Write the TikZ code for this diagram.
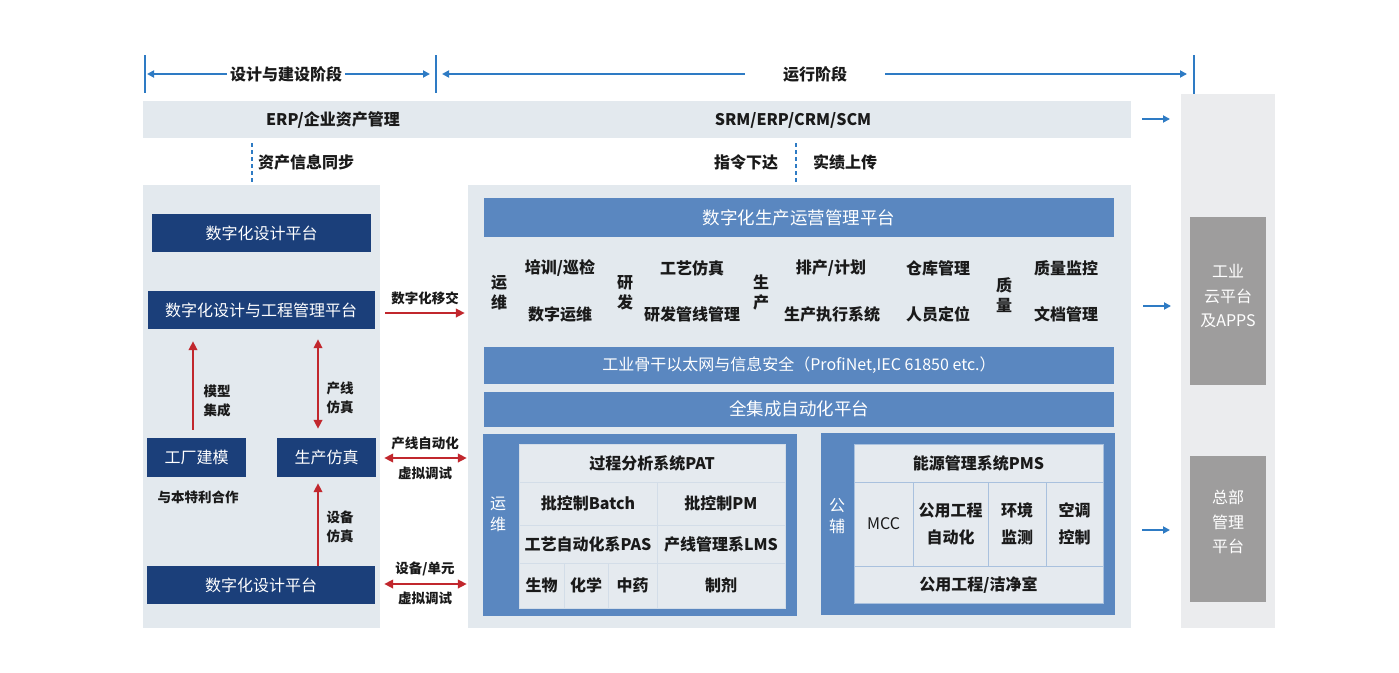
\documentclass[tikz,border=0pt]{standalone}
\usepackage{fontspec}
\setmainfont{Noto Sans CJK SC}
\usetikzlibrary{arrows.meta,calc}
\definecolor{panelc}{HTML}{E3E9EE}
\definecolor{rightc}{HTML}{EBECEE}
\definecolor{navy}{HTML}{1B3F7A}
\definecolor{midblue}{HTML}{5A87C0}
\definecolor{cellc}{HTML}{E5EAEF}
\definecolor{celllineL}{HTML}{D3DDE8}
\definecolor{celllineR}{HTML}{A9C1DE}
\definecolor{greyc}{HTML}{9E9D9D}
\definecolor{redc}{HTML}{C1272D}
\definecolor{bluec}{HTML}{2E7BC4}
\definecolor{txt}{HTML}{1A1A1A}
\tikzset{
 panel/.style={fill=#1, draw=none, inner sep=0},
 navybox/.style={fill=navy, text=white, inner sep=0, font=\fontsize{16}{20}\selectfont},
 bluebox/.style={fill=midblue, text=white, inner sep=0, font=\fontsize{16}{20}\selectfont},
 cellL/.style={fill=cellc, draw=celllineL, line width=1pt, inner sep=0, text=txt, align=center, font=\bfseries\fontsize{16}{20}\selectfont},
 cellR/.style={fill=cellc, draw=celllineR, line width=1pt, inner sep=0, text=txt, align=center, font=\bfseries\fontsize{16}{26.5}\selectfont},
 greybox/.style={fill=greyc, inner sep=0},
 greytext/.style={text=white, inner sep=0, align=center, font=\fontsize{16}{24.5}\selectfont},
 lbl/.style={text=txt, inner sep=0, align=center, font=\bfseries\fontsize{16}{20}\selectfont},
 tlbl/.style={text=txt, inner sep=3pt, align=center, font=\bfseries\fontsize{16}{20}\selectfont},
 slbl/.style={text=txt, inner sep=0, align=center, font=\bfseries\fontsize{13.5}{19}\selectfont},
 wlbl/.style={text=white, inner sep=0, align=center, font=\fontsize{16}{21}\selectfont},
 bluearr/.style={draw=bluec, line width=2pt, -{Triangle[length=7pt,width=7pt]}},
 tickline/.style={draw=bluec, line width=1.5pt},
 redarr/.style={draw=redc, line width=2.5pt, -{Triangle[length=9pt,width=8.5pt]}},
 redarrtwo/.style={draw=redc, line width=2.5pt, {Triangle[length=9pt,width=8.5pt]}-{Triangle[length=9pt,width=8.5pt]}},
 dsh/.style={draw=bluec, line width=1.5pt, dash pattern=on 4pt off 3pt},
}
\begin{document}
\begin{tikzpicture}[x=1pt,y=-1pt]
\fill[white] (0,0) rectangle (1399,672);
\useasboundingbox (0,0) rectangle (1399,672);

% ---------- background panels ----------
\node[panel=rightc, minimum width=94, minimum height=534] (rcol) at (1227.5,361) {};
\node[panel=panelc, minimum width=988, minimum height=37] (band) at (637,119.5) {};
\node[panel=panelc, minimum width=237, minimum height=443] (lp) at (261.5,406.5) {};
\node[panel=panelc, minimum width=663, minimum height=443] (mp) at (799.5,406.5) {};

% ---------- timeline ----------
\coordinate (k1a) at (145,55); \coordinate (k1b) at (145,93);
\coordinate (k2a) at (436,55); \coordinate (k2b) at (436,93);
\coordinate (k3a) at (1194,55); \coordinate (k3b) at (1194,94);
\draw[tickline] (k1a) -- (k1b);
\draw[tickline] (k2a) -- (k2b);
\draw[tickline] (k3a) -- (k3b);
\node[tlbl] (ph1) at (286,74) {设计与建设阶段};
\node[tlbl, inner xsep=38pt] (ph2) at (815,74) {运行阶段};
\coordinate (p1l) at (147,74); \coordinate (p1r) at (430,74);
\coordinate (p2l) at (442,74); \coordinate (p2r) at (1187,74);
\draw[bluearr] (ph1.west) -- (p1l);
\draw[bluearr] (ph1.east) -- (p1r);
\draw[bluearr] (ph2.west) -- (p2l);
\draw[bluearr] (ph2.east) -- (p2r);

% ---------- top band ----------
\node[lbl] (erp) at (333,120) {ERP/企业资产管理};
\node[lbl] (srm) at (793,120) {SRM/ERP/CRM/SCM};
\coordinate (ba1) at (1142,119); \coordinate (ba2) at (1170,119);
\draw[bluearr] (ba1) -- (ba2);

\coordinate (ds1a) at (252,143); \coordinate (ds1b) at (252,182);
\draw[dsh] (ds1a) -- (ds1b);
\node[lbl, anchor=west] (sync) at (258,162) {资产信息同步};
\coordinate (ds2a) at (796,143); \coordinate (ds2b) at (796,182);
\draw[dsh] (ds2a) -- (ds2b);
\node[lbl] (cmd) at (746,162) {指令下达};
\node[lbl] (rep) at (845,162) {实绩上传};

% ---------- left panel ----------
\node[navybox, minimum width=219, minimum height=38] (d1) at (261.5,233) {数字化设计平台};
\node[navybox, minimum width=227, minimum height=38] (d2) at (261,310) {数字化设计与工程管理平台};
\node[navybox, minimum width=99, minimum height=39] (fac) at (196.5,457.5) {工厂建模};
\node[navybox, minimum width=99, minimum height=39] (sim) at (326.5,457.5) {生产仿真};
\node[navybox, minimum width=228, minimum height=38] (d3) at (261,585) {数字化设计平台};
\node[slbl] (bently) at (198,497) {与本特利合作};

\draw[redarr, shorten <=8pt, shorten >=12pt] ($(fac.north)+(-3.5,0)$) -- ($(fac.north |- d2.south)+(-3.5,0)$);
\node[slbl] (mj) at (217,401) {模型\\集成};
\draw[redarrtwo, shorten <=9pt, shorten >=10pt] ($(sim.north)+(-8.5,0)$) -- ($(sim.north |- d2.south)+(-8.5,0)$);
\node[slbl] (cx) at (340,398) {产线\\仿真};
\draw[redarr, shorten >=6pt] ($(sim.south |- d3.north)+(-8.5,0)$) -- ($(sim.south)+(-8.5,0)$);
\node[slbl] (sb) at (340,527) {设备\\仿真};

% ---------- red arrows between panels ----------
\draw[redarr] ($(d2.east)+(10.5,3)$) -- ($(mp.west |- d2.east)+(-3,3)$);
\node[slbl] (yj) at (425,298) {数字化移交};
\draw[redarrtwo] ($(sim.east)+(8,0.5)$) -- ($(mp.west |- sim.east)+(-1,0.5)$);
\node[slbl] (zd) at (425,443) {产线自动化};
\node[slbl] (vt1) at (425,473) {虚拟调试};
\draw[redarrtwo] ($(d3.east)+(9,-1)$) -- ($(mp.west |- d3.east)+(-1,-1)$);
\node[slbl] (dy) at (425,569) {设备/单元};
\node[slbl] (vt2) at (425,598) {虚拟调试};

% ---------- middle panel ----------
\node[bluebox, minimum width=630, minimum height=39, font=\fontsize{17.5}{21}\selectfont] (mom) at (799,217.5) {数字化生产运营管理平台};
\node[lbl] (v1) at (499,293) {运\\维};
\node[lbl] (a1) at (560,268) {培训/巡检};
\node[lbl] (a2) at (560,314) {数字运维};
\node[lbl] (v2) at (625,293) {研\\发};
\node[lbl] (b1) at (692,268) {工艺仿真};
\node[lbl] (b2) at (692,314) {研发管线管理};
\node[lbl] (v3) at (761,293) {生\\产};
\node[lbl] (c1) at (831,268) {排产/计划};
\node[lbl] (c2) at (832,314) {生产执行系统};
\node[lbl] (e1) at (938,268) {仓库管理};
\node[lbl] (e2) at (938,314) {人员定位};
\node[lbl] (v4) at (1004,295) {质\\量};
\node[lbl] (f1) at (1066,268) {质量监控};
\node[lbl] (f2) at (1066,314) {文档管理};

\node[bluebox, minimum width=630, minimum height=37] (net) at (799,365) {工业骨干以太网与信息安全（ProfiNet,IEC 61850 etc.）};
\node[bluebox, minimum width=630, minimum height=35, font=\fontsize{17.5}{21}\selectfont] (tia) at (799,409) {全集成自动化平台};

% left sub-block
\node[panel=midblue, minimum width=314, minimum height=182] (lb) at (640,525) {};
\node[wlbl] (lbv) at (498,514) {运\\维};
\node[cellL, minimum width=266, minimum height=38] (pat) at (652,463) {过程分析系统PAT};
\node[cellL, minimum width=138, minimum height=43] (batch) at (588,503.5) {批控制Batch};
\node[cellL, minimum width=128, minimum height=43] (pm) at (721,503.5) {批控制PM};
\node[cellL, minimum width=138, minimum height=38] (pas) at (588,544) {工艺自动化系PAS};
\node[cellL, minimum width=128, minimum height=38] (lms) at (721,544) {产线管理系LMS};
\node[cellL, minimum width=45, minimum height=45] (bio) at (541.5,585.5) {生物};
\node[cellL, minimum width=44, minimum height=45] (chem) at (586,585.5) {化学};
\node[cellL, minimum width=49, minimum height=45] (tcm) at (632.5,585.5) {中药};
\node[cellL, minimum width=128, minimum height=45] (prep) at (721,585.5) {制剂};

% right sub-block
\node[panel=midblue, minimum width=294, minimum height=182] (rb) at (968,524) {};
\node[wlbl] (rbv) at (837,516) {公\\辅};
\node[cellR, minimum width=249, minimum height=38] (pms) at (978.5,463) {能源管理系统PMS};
\node[cellR, minimum width=59, minimum height=84, font=\fontsize{16}{20}\selectfont] (mcc) at (883.5,524) {MCC};
\node[cellR, minimum width=75, minimum height=84] (pub) at (950.5,524) {公用工程\\自动化};
\node[cellR, minimum width=58, minimum height=84] (env) at (1017,524) {环境\\监测};
\node[cellR, minimum width=57, minimum height=84] (ac) at (1074.5,524) {空调\\控制};
\node[cellR, minimum width=249, minimum height=37] (clean) at (978.5,584.5) {公用工程/洁净室};

% ---------- right column ----------
\node[greybox, minimum width=76, minimum height=168] (cloud) at (1228,301) {};
\node[greytext] (cloudt) at (1228,296) {工业\\云平台\\及APPS};
\node[greybox, minimum width=76, minimum height=146] (hq) at (1228,529) {};
\node[greytext] (hqt) at (1228,522) {总部\\管理\\平台};
\coordinate (ra1) at (1143,306); \coordinate (ra2) at (1171,306);
\draw[bluearr] (ra1) -- (ra2);
\coordinate (rb1) at (1142,530); \coordinate (rb2) at (1170,530);
\draw[bluearr] (rb1) -- (rb2);
\end{tikzpicture}
\end{document}
